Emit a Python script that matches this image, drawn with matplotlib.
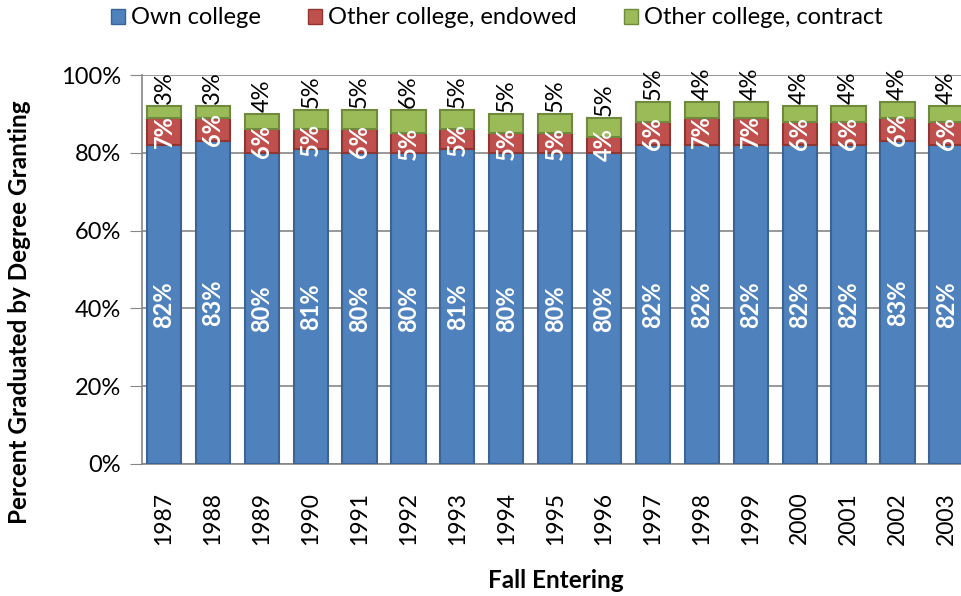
import matplotlib as mpl
mpl.use('Agg')
import matplotlib.pyplot as plt
from matplotlib.patches import Patch
from matplotlib.ticker import PercentFormatter
import numpy as np

plt.rcParams['font.family'] = ['Lato', 'DejaVu Sans']

# data (percent of entering class)
years = ['1987', '1988', '1989', '1990', '1991', '1992', '1993', '1994', '1995',
         '1996', '1997', '1998', '1999', '2000', '2001', '2002', '2003']
own_college = [82, 83, 80, 81, 80, 80, 81, 80, 80, 80, 82, 82, 82, 82, 82, 83, 82]
endowed = [7, 6, 6, 5, 6, 5, 5, 5, 5, 4, 6, 7, 7, 6, 6, 6, 6]
contract = [3, 3, 4, 5, 5, 6, 5, 5, 5, 5, 5, 4, 4, 4, 4, 4, 4]

blue = '#4F81BD'
red = '#C0504D'
green = '#9BBB59'

fig = plt.figure(figsize=(9.61, 5.96), dpi=100)
ax = fig.add_axes([142/961, 1 - 464/596, 1 - 142/961, (464 - 75)/596])

x = np.arange(len(years))
w = 0.70
own = np.array(own_college)
end = np.array(endowed)
con = np.array(contract)

ax.bar(x, own, w, color=blue, edgecolor='#3a6496', linewidth=1.5, zorder=3)
ax.bar(x, end, w, bottom=own, color=red, edgecolor='#8f3532', linewidth=1.5, zorder=3)
ax.bar(x, con, w, bottom=own + end, color=green, edgecolor='#6f8a3c', linewidth=1.5, zorder=3)

# data labels
for i in range(len(years)):
    ax.text(x[i], own[i] / 2, '%d%%' % own[i], rotation=90, ha='center', va='center',
            color='white', fontweight='bold', fontsize=17, zorder=5)
    ax.text(x[i], own[i] + end[i] / 2, '%d%%' % end[i], rotation=90, ha='center', va='center',
            color='white', fontweight='bold', fontsize=17, zorder=5)
    ax.text(x[i], own[i] + end[i] + con[i] + 0.5, '%d%%' % con[i], rotation=90, ha='center',
            va='bottom', color='black', fontsize=17, zorder=5, clip_on=False)

ax.set_ylim(0, 100)
ax.set_xlim(-0.45, 16.3)
ax.yaxis.set_major_formatter(PercentFormatter(decimals=0))
ax.set_yticks(range(0, 101, 20))
ax.set_xticks(x)
ax.set_xticklabels(years, rotation=90)
ax.tick_params(axis='y', labelsize=17, length=9, color='#868686', pad=6)
ax.tick_params(axis='x', labelsize=16.5, length=0, pad=20)

ax.grid(axis='y', color='#868686', linewidth=1.2, zorder=0)
for s in ['top', 'right']:
    ax.spines[s].set_visible(False)
ax.spines['left'].set_color('#868686')
ax.spines['bottom'].set_color('#868686')
ax.spines['left'].set_linewidth(1.2)
ax.spines['bottom'].set_linewidth(1.2)

fig.text(20/961, 1 - 312/596, 'Percent Graduated by Degree Granting', rotation=90,
         ha='center', va='center', fontweight='bold', fontsize=17.5)
fig.text(556/961, 1 - 580/596, 'Fall Entering', ha='center', va='center',
         fontweight='bold', fontsize=17.5)

handles = [Patch(facecolor=blue, edgecolor='#3a6496'),
           Patch(facecolor=red, edgecolor='#8f3532'),
           Patch(facecolor=green, edgecolor='#6f8a3c')]
fig.legend(handles, ['Own college', 'Other college, endowed', 'Other college, contract'],
           loc='center', bbox_to_anchor=(497/961, 1 - 18/596), ncol=3, frameon=False,
           fontsize=17, handlelength=0.6, handleheight=0.6, handletextpad=0.25,
           columnspacing=2.0)

plt.savefig('out.png', dpi=100)
